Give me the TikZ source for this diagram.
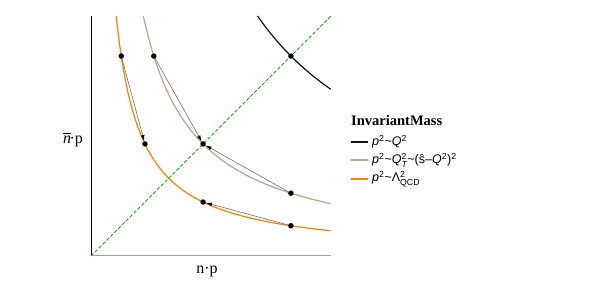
\documentclass[tikz,border=0pt]{standalone}
\usepackage{amsmath}
\usepackage{fontspec}
\setmainfont{Liberation Serif}
\setsansfont{Liberation Sans}
\usetikzlibrary{arrows.meta}
\definecolor{hardblack}{RGB}{15,15,15}
\definecolor{softtan}{RGB}{192,162,132}
\definecolor{qcdorange}{RGB}{255,128,0}
\definecolor{diaggreen}{RGB}{0,178,0}

\begin{document}
\begin{tikzpicture}[>=Latex,x=1pt,y=1pt,
    dot/.style={circle,fill=black,inner sep=0pt,minimum size=5.5pt},
    flow/.style={-{Latex[black,length=6pt,width=3.6pt]},black!60,line width=0.55pt},
    curve/.style={line width=1.2pt,samples=120},
    legtext/.style={anchor=west,inner sep=0pt,font=\sffamily\fontsize{12.5}{14}\selectfont}]
  \useasboundingbox (0,0) rectangle (600,300);
  \begin{scope}[shift={(91,44)},x=240pt,y=240pt]
    \pgfmathsetmacro{\chard}{0.694}
    \pgfmathsetmacro{\csoft}{0.218}
    \pgfmathsetmacro{\cqcd}{0.105}
    \pgfmathsetmacro{\xa}{0.833}
    \pgfmathsetmacro{\xb}{sqrt(\csoft)}
    % axes and diagonal
    \draw[gray!75,line width=1pt] (0,0) -- (1,0);
    \draw[black,line width=0.6pt] (0,0) -- (0,1);
    \draw[diaggreen,line width=0.9pt,dash pattern=on 3.5pt off 2pt] (0,0) -- (1,1);
    % invariant mass hyperbolas
    \draw[curve,hardblack,domain=\chard:1] plot (\x,{\chard/\x});
    \draw[curve,softtan,domain=\csoft:1] plot (\x,{\csoft/\x});
    \draw[curve,qcdorange,domain=\cqcd:1] plot (\x,{\cqcd/\x});
    % points
    \node[dot] (hard) at (\xa,\xa) {};
    \node[dot] (soft1) at ({\csoft/\xa},\xa) {};
    \node[dot] (soft2) at (\xb,\xb) {};
    \node[dot] (soft3) at (\xa,{\csoft/\xa}) {};
    \node[dot] (qcd1) at ({\cqcd/\xa},\xa) {};
    \node[dot] (qcd2) at ({\cqcd/\xb},\xb) {};
    \node[dot] (qcd3) at (\xb,{\cqcd/\xb}) {};
    \node[dot] (qcd4) at (\xa,{\cqcd/\xa}) {};
    \draw[flow] (qcd1) -- (qcd2);
    \draw[flow] (soft1) -- (soft2);
    \draw[flow] (soft3) -- (soft2);
    \draw[flow] (qcd4) -- (qcd3);
  \end{scope}
  \node[font=\fontsize{16}{18}\selectfont] (ylabel) at (73,160) {$\overline{\textit{n}}$\kern-1.5pt·p};
  \node[font=\fontsize{16}{18}\selectfont] (xlabel) at (207,29) {n·p};
  % legend
  \node[anchor=west,inner sep=0pt,font=\bfseries\fontsize{14.5}{16}\selectfont] (legtitle) at (351,179) {InvariantMass};
  \draw[hardblack,line width=1.2pt] (351,158) coordinate (l1) -- (368,158) coordinate (r1);
  \draw[softtan,line width=1.2pt] (351,140) coordinate (l2) -- (368,140) coordinate (r2);
  \draw[qcdorange,line width=1.2pt] (351,121) coordinate (l3) -- (368,121) coordinate (r3);
  \node[legtext] (leg1) at ([xshift=4pt]r1) {\textit{p}$^{\text{2}}$\textasciitilde\textit{Q}$^{\text{2}}$};
  \node[legtext] (leg2) at ([xshift=4pt]r2) {\textit{p}$^{\text{2}}$\textasciitilde\textit{Q}$^{\text{2}}_{\text{\itshape T}}$\textasciitilde(\^{s}–\textit{Q}$^{\text{2}}$)$^{\text{2}}$};
  \node[legtext] (leg3) at ([xshift=4pt]r3) {\textit{p}$^{\text{2}}$\textasciitilde Λ$^{\text{2}}_{\text{QCD}}$};
\end{tikzpicture}
\end{document}
